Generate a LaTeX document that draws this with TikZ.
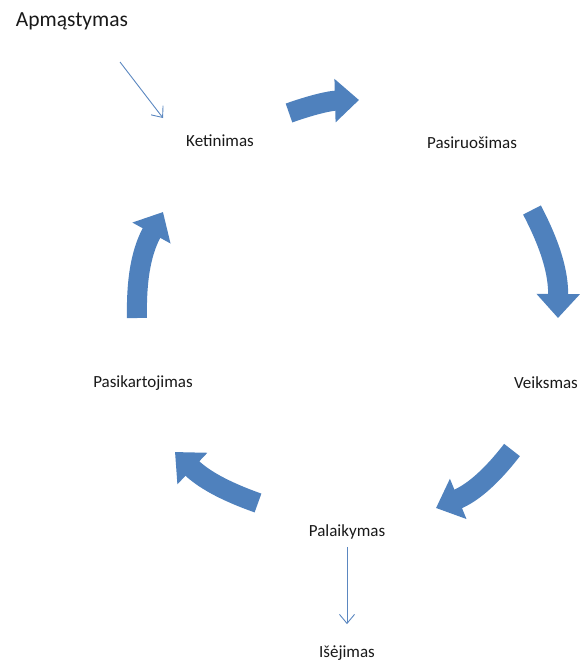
\documentclass[tikz,border=0pt]{standalone}
\usepackage{fontspec}
\setmainfont{Carlito}
\usetikzlibrary{arrows.meta}
\definecolor{blokas}{HTML}{4F81BD}
\definecolor{linija}{HTML}{5B87C0}

\begin{document}
\begin{tikzpicture}[x=1pt,y=1pt,
	zodis/.style={font=\fontsize{17}{20}\selectfont,text=black!90},
	rodykle/.style={draw=blokas,line width=20pt,-{Triangle[width=42pt,length=24pt]}},
	plona/.style={draw=linija,line width=0.9pt,-{Straight Barb[length=9pt,width=15pt]}}]
	\useasboundingbox (0,0) rectangle (588,-662);
	% tekstai
	\node[zodis,font=\fontsize{21.5}{24}\selectfont] (apm) at (72,-21) {Apmąstymas};
	\node[zodis] (ket) at (220,-141) {Ketinimas};
	\node[zodis] (pas) at (472,-143) {Pasiruošimas};
	\node[zodis] (vei) at (546,-383) {Veiksmas};
	\node[zodis] (pal) at (347,-532) {Palaikymas};
	\node[zodis] (isej) at (347,-653) {Išėjimas};
	\node[zodis] (pak) at (143,-383) {Pasikartojimas};
	% ciklo rodykles
	\coordinate (r1a) at (289,-113);
	\coordinate (r1b) at (359,-100);
	\coordinate (r2a) at (532,-210);
	\coordinate (r2b) at (558,-318);
	\coordinate (r3a) at (512,-450);
	\coordinate (r3b) at (436,-508);
	\coordinate (r4a) at (258,-503);
	\coordinate (r4b) at (175,-452);
	\coordinate (r5a) at (137,-318);
	\coordinate (r5b) at (163,-212);
	\draw[rodykle] (r1a) to[bend left=9] (r1b);
	\draw[rodykle] (r2a) to[bend left=14] (r2b);
	\draw[rodykle] (r3a) to[bend left=15] (r3b);
	\draw[rodykle] (r4a) to[bend left=12] (r4b);
	\draw[rodykle] (r5a) to[bend left=15] (r5b);
	% plonos rodykles
	\coordinate (t1) at (120,-62);
	\coordinate (t2) at (163,-118);
	\draw[plona] (t1) -- (t2);
	\draw[plona,shorten <=4pt,shorten >=18pt] (pal) -- (isej);
\end{tikzpicture}
\end{document}
